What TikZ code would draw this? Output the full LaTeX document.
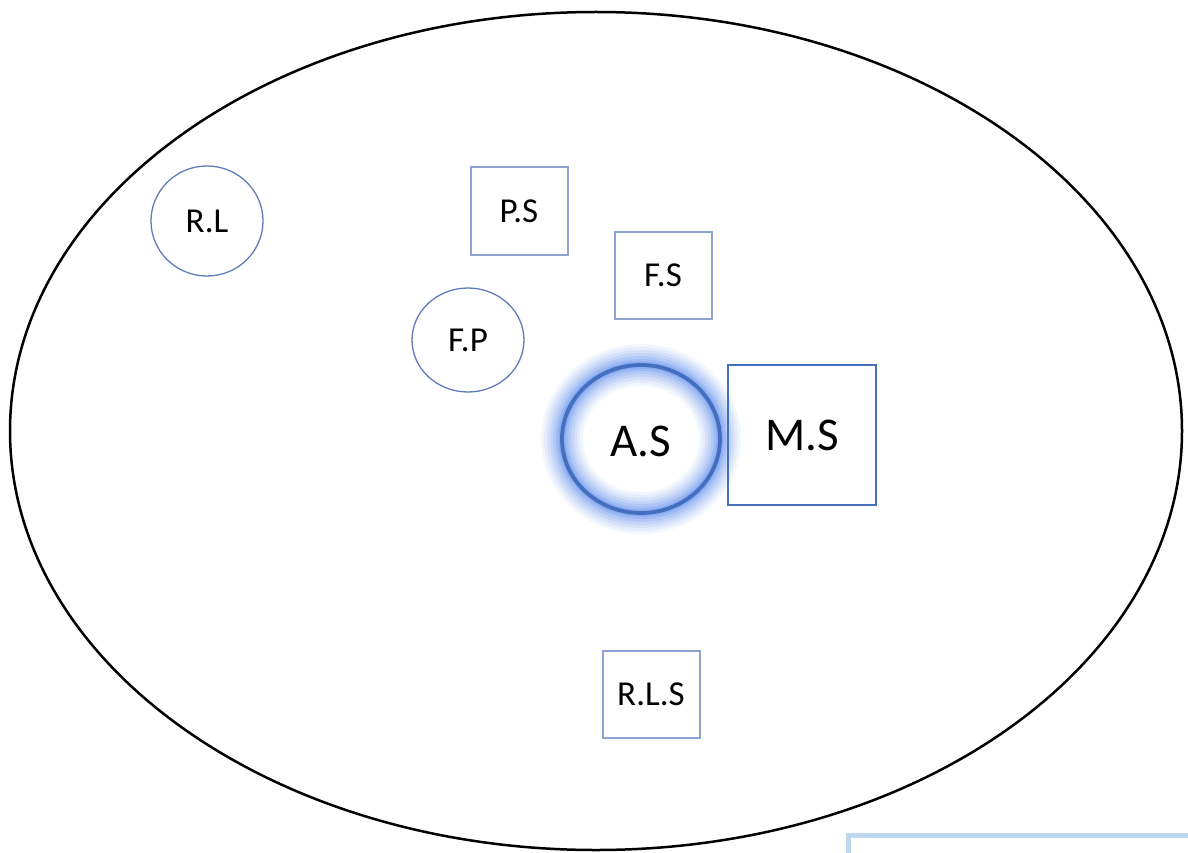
\documentclass[tikz,border=0pt]{standalone}
\usepackage{fontspec}
\setmainfont{Carlito}
\usetikzlibrary{shapes.geometric}
\definecolor{sqblue}{RGB}{143,162,214}
\definecolor{ciblue}{RGB}{95,125,185}
\definecolor{asblue}{RGB}{68,110,190}
\definecolor{glowblue}{RGB}{80,130,240}
\definecolor{boxblue}{RGB}{189,215,238}
\begin{document}
\begin{tikzpicture}[x=1pt,y=-1pt,
  smallsq/.style={draw=sqblue,line width=2pt,minimum width=97pt,minimum height=87pt,inner sep=0pt,font=\fontsize{35}{40}\selectfont},
  smallci/.style={draw=ciblue,line width=1.3pt,ellipse,minimum width=112pt,minimum height=110pt,inner sep=0pt,font=\fontsize{35}{40}\selectfont},
  bigtext/.style={font=\fontsize{47}{54}\selectfont}]
\useasboundingbox (0,0) rectangle (1188,853);
\fill[white] (0,0) rectangle (1188,853);
% outer ellipse
\draw[line width=2.5pt] (596,431) ellipse [x radius=586, y radius=419];
% glow for A.S
\foreach \w/\o in {42/0.07,36/0.08,30/0.10,24/0.12,18/0.15,12/0.2,7/0.25}{
  \draw[glowblue,line width=\w pt,opacity=\o] (641,439) ellipse [x radius=79, y radius=74];
}
\node[smallci] (RL) at (207,221) {R.L};
\node[smallsq] (PS) at (519,211) {\raisebox{-4pt}{P.S}};
\node[smallsq] (FS) at (663,275) {F.S};
\node[smallci,minimum height=104pt] (FP) at (468,340) {F.P};
\node[smallsq] (RLS) at (651,694) {R.L.S};
\node[draw=asblue,line width=2.5pt,minimum width=148pt,minimum height=140pt,inner sep=0pt,bigtext] (MS) at (802,435) {M.S};
\draw[asblue,line width=3.8pt] (641,439) ellipse [x radius=79, y radius=74];
\node[bigtext] (AS) at (641,441) {A.S};
\draw[boxblue,line width=5pt] (848,900) -- (848,835) -- (1200,835);
\end{tikzpicture}
\end{document}
